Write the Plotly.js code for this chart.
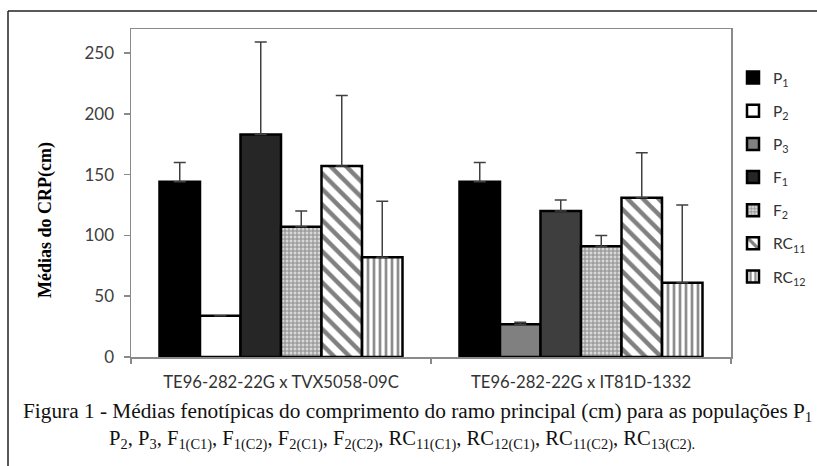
<!DOCTYPE html>
<html>
<head>
<meta charset="utf-8">
<script src="https://cdn.plot.ly/plotly-3.0.1.min.js"></script>
<style>html,body{margin:0;padding:0;background:#fff;}#chart{width:817px;height:466px;}</style>
</head>
<body>
<div id="chart"></div>
<script>
// ---- data ----
const categories = ["TE96-282-22G x TVX5058-09C", "TE96-282-22G x IT81D-1332"];
const seriesNames = ["P<sub>1</sub>", "P<sub>2</sub>", "P<sub>3</sub>", "F<sub>1</sub>", "F<sub>2</sub>", "RC<sub>11</sub>", "RC<sub>12</sub>"];
const P1 = [144, 144];
const P2 = [34, null];
const P3 = [null, 27];
const F1 = [183, 120];
const F2 = [107, 91];
const RC11 = [157, 131];
const RC12 = [82, 61];
const errP1 = [16, 16];
const errP2 = [null, null];
const errP3 = [null, 1.5];
const errF1 = [76, 9];
const errF2 = [13, 9];
const errRC11 = [58, 37];
const errRC12 = [46, 64];
const yTicks = [0, 50, 100, 150, 200, 250];
const yTitle = "Médias do CRP(cm)";
const caption1 = "Figura 1 - Médias fenotípicas do comprimento do ramo principal (cm) para as populações P<sub>1</sub>";
const caption2 = "P<sub>2</sub>, P<sub>3</sub>, F<sub>1(C1)</sub>, F<sub>1(C2)</sub>, F<sub>2(C1)</sub>, F<sub>2(C2)</sub>, RC<sub>11(C1)</sub>, RC<sub>12(C1)</sub>, RC<sub>11(C2)</sub>, RC<sub>13(C2).</sub>";

// ---- styling ----
const outline = {color: "#000", width: 2.5};
function err(arr) {
  return {type: "data", array: arr, arrayminus: arr.map(() => 0), symmetric: false,
          color: "#404040", thickness: 1.5, width: 6};
}
function bar(name, y, e, group, marker) {
  return {type: "bar", name: name, x: categories, y: y, error_y: err(e),
          offsetgroup: group, legendgroup: name,
          marker: Object.assign({line: outline}, marker), hoverinfo: "y"};
}
const traces = [
  bar(seriesNames[0], P1, errP1, "a", {color: "#000000"}),
  bar(seriesNames[1], P2, errP2, "b", {color: "#ffffff"}),
  bar(seriesNames[2], P3, errP3, "b", {color: "#808080"}),
  bar(seriesNames[3], F1, errF1, "c", {color: ["#262626", "#3e3e3e"]}),
  bar(seriesNames[4], F2, errF2, "d", {color: "#c8c8c8",
      pattern: {shape: "+", fgcolor: "#8c8c8c", bgcolor: "#d8d8d8", size: 4, solidity: 0.45}}),
  bar(seriesNames[5], RC11, errRC11, "e", {color: "#ffffff",
      pattern: {shape: "\\", fgcolor: "#808080", bgcolor: "#ffffff", size: 11, solidity: 0.4}}),
  bar(seriesNames[6], RC12, errRC12, "f", {color: "#ffffff",
      pattern: {shape: "|", fgcolor: "#8c8c8c", bgcolor: "#ffffff", size: 6, solidity: 0.45}})
];

const L = 131, R = 731, T = 29, B = 357, W = 817, H = 466;
const px = v => (v - L) / (R - L);
const py = v => (B - v) / (B - T);

const layout = {
  width: W, height: H,
  margin: {l: L, r: W - R, t: T, b: H - B, pad: 0, autoexpand: false},
  paper_bgcolor: "#fff", plot_bgcolor: "#fff",
  barmode: "group", bargap: 0.19, bargroupgap: 0,
  font: {family: "Lato, 'Open Sans', sans-serif", color: "#333"},
  xaxis: {
    type: "category", showline: true, linecolor: "#8a8a8a", linewidth: 1.5, mirror: true,
    ticks: "outside", tickson: "boundaries", ticklen: 5, tickcolor: "#8a8a8a", tickwidth: 1.5,
    tickfont: {size: 16.7, color: "#333"}, ticklabelstandoff: 9, showgrid: false, zeroline: false,
    automargin: false
  },
  yaxis: {
    range: [0, 269.7], tickvals: yTicks, ticktext: yTicks.map(String),
    showline: true, linecolor: "#8a8a8a", linewidth: 1.5, mirror: true,
    ticks: "outside", ticklen: 6, tickcolor: "#8a8a8a", tickwidth: 1.5,
    tickfont: {size: 17, color: "#404040"}, ticklabelstandoff: 6,
    showgrid: false, zeroline: false, automargin: false
  },
  legend: {
    x: px(733), xanchor: "left", y: py(61), yanchor: "top",
    font: {size: 15.5, color: "#333"}, tracegroupgap: 10, itemwidth: 30,
    bgcolor: "rgba(0,0,0,0)", traceorder: "grouped"
  },
  showlegend: true,
  shapes: [
    {type: "line", xref: "paper", yref: "paper", x0: px(8), x1: px(830), y0: py(11), y1: py(11),
     line: {color: "#222", width: 1.5}},
    {type: "line", xref: "paper", yref: "paper", x0: px(8), x1: px(8), y0: py(11), y1: py(480),
     line: {color: "#222", width: 1.5}}
  ],
  annotations: [
    {xref: "paper", yref: "paper", x: px(45), y: py(220), xanchor: "center", yanchor: "middle",
     textangle: -90, showarrow: false,
     font: {family: "'Liberation Serif', serif", size: 18, color: "#000", weight: "bold"},
     text: yTitle},
    {xref: "paper", yref: "paper", x: px(21), y: py(412), xanchor: "left", yanchor: "middle",
     showarrow: false, align: "left",
     font: {family: "'Liberation Serif', serif", size: 21.3, color: "#111"},
     text: caption1},
    {xref: "paper", yref: "paper", x: px(107), y: py(440), xanchor: "left", yanchor: "middle",
     showarrow: false, align: "left",
     font: {family: "'Liberation Serif', serif", size: 20.6, color: "#111"},
     text: caption2}
  ]
};

Plotly.newPlot("chart", traces, layout, {displayModeBar: false, staticPlot: true});
</script>
</body>
</html>
